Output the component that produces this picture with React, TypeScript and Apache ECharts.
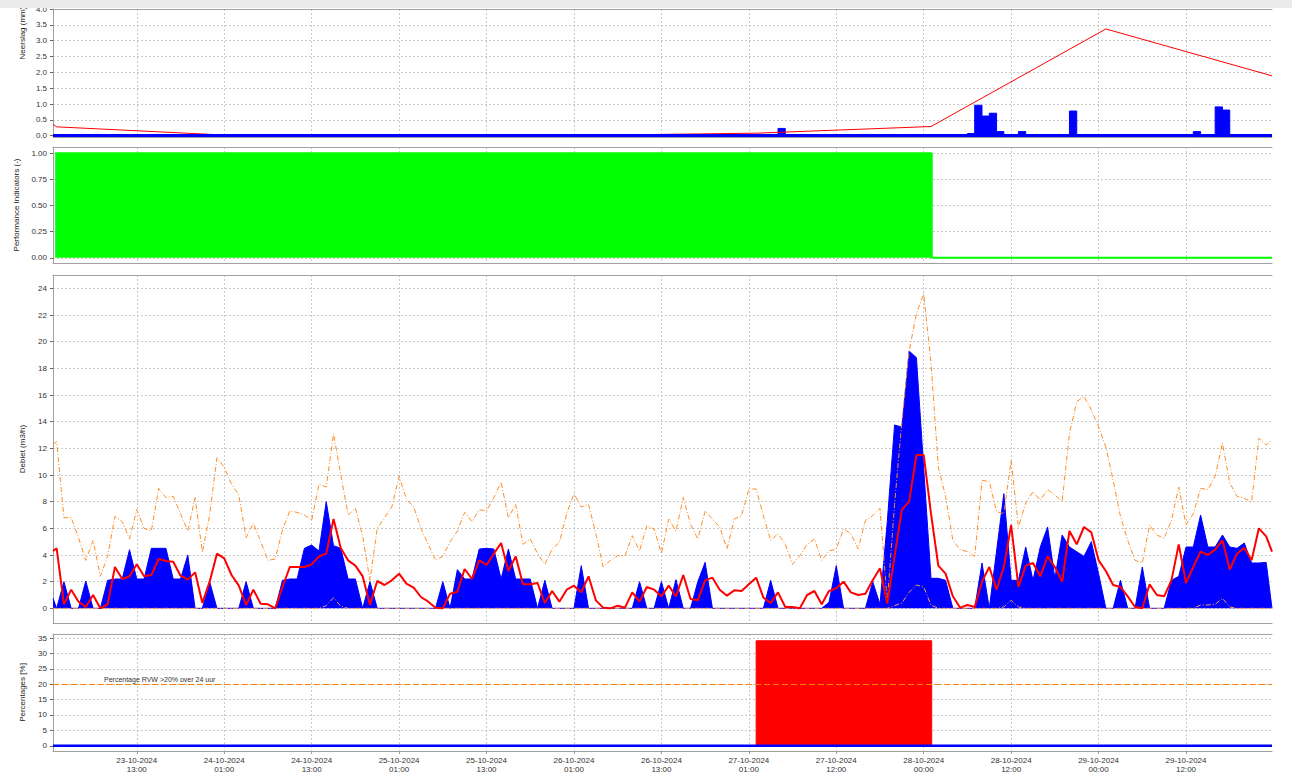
import React, { useEffect, useRef } from 'react';
import * as echarts from 'echarts';

// x values are hours relative to 23-10-2024 13:00
const X_MIN = -11.5;
const X_MAX = 155.8;
const tickHours = [0, 12, 24, 36, 48, 60, 72, 84, 96, 108, 120, 132, 144];
const tickLabels = [
  '23-10-2024\n13:00', '24-10-2024\n01:00', '24-10-2024\n13:00', '25-10-2024\n01:00',
  '25-10-2024\n13:00', '26-10-2024\n01:00', '26-10-2024\n13:00', '27-10-2024\n01:00',
  '27-10-2024\n12:00', '28-10-2024\n00:00', '28-10-2024\n12:00', '29-10-2024\n00:00',
  '29-10-2024\n12:00',
];

const hourly: number[] = [];
for (let h = -11; h <= 155; h++) hourly.push(h);
const timeHours = [-11.5, ...hourly, 155.8];

// Neerslag (mm) per uur
const rain = [
  0,
  0, 0, 0, 0, 0, 0, 0, 0, 0, 0, 0,
  0, 0, 0, 0, 0, 0, 0, 0, 0, 0, 0, 0,
  0, 0, 0, 0, 0, 0, 0, 0, 0, 0, 0, 0,
  0, 0, 0, 0, 0, 0, 0, 0, 0, 0, 0, 0,
  0, 0, 0, 0, 0, 0, 0, 0, 0, 0, 0, 0,
  0, 0, 0, 0, 0, 0, 0, 0, 0, 0, 0, 0,
  0, 0, 0, 0, 0, 0, 0, 0, 0, 0, 0, 0,
  0, 0, 0, 0, 0, 0, 0, 0.04, 0.04, 0.04, 0.04, 0.04,
  0.04, 0.04, 0.04, 0.04, 0.23, 0, 0, 0, 0, 0, 0, 0,
  0, 0, 0, 0, 0, 0, 0, 0, 0, 0, 0, 0,
  0, 0, 0, 0, 0, 0, 0.07, 0.96, 0.62, 0.71, 0.13, 0,
  0, 0.13, 0, 0, 0, 0, 0, 0, 0.78, 0, 0, 0,
  0, 0, 0, 0, 0, 0, 0, 0, 0, 0, 0, 0,
  0, 0.13, 0, 0, 0.91, 0.81, 0, 0, 0, 0, 0, 0,
  0,
];

// Neerslag som (red line)
const rainSumHours = [-11.5, -11, 13, 37, 61, 85, 109, 133, 155.8];
const rainSum = [0.36, 0.28, 0.01, 0.01, 0.01, 0.08, 0.29, 3.37, 1.89];

// Performance indicator
const perfHours = [-11.2, 109.1, 109.1, 155.8];
const perfValues = [1, 1, 0, 0];

// Debiet gemeten (blue area)
const flowMeasured = [
  0.75,
  0, 2.0, 0, 0, 2.05, 0, 0, 2.1, 2.2, 2.2, 4.4,
  2.2, 2.2, 4.5, 4.5, 4.5, 2.2, 2.2, 4.0, 0, 0, 2.0, 0,
  0, 0, 0, 2.0, 0, 0, 0, 0, 2.1, 2.2, 2.2, 4.5,
  4.75, 4.3, 8.0, 4.7, 4.5, 2.2, 2.2, 0, 2.0, 0, 0, 0,
  0, 0, 0, 0, 0, 0, 2.0, 0, 2.9, 2.2, 2.2, 4.45,
  4.5, 4.45, 2.2, 4.45, 2.2, 2.2, 2.2, 0, 2.1, 0, 0, 0,
  0, 3.2, 0, 0, 0, 0, 0, 0, 0, 2.0, 0, 0,
  2.0, 0, 2.15, 0, 0, 2.0, 3.45, 0, 0, 0, 0, 0,
  0, 0, 0, 2.1, 0, 0, 0, 0, 0, 0, 0, 0.45,
  3.2, 0, 0, 0, 0, 2.0, 0.3, 6.5, 13.75, 13.6, 19.3, 18.8,
  10.5, 2.25, 2.25, 2.1, 0, 0, 0, 0, 3.4, 0, 4.3, 8.6,
  2.1, 2.1, 4.6, 2.1, 4.6, 6.1, 2.25, 5.5, 4.6, 4.25, 3.9, 5.0,
  2.6, 0, 0, 2.1, 0, 0, 3.1, 0, 0, 0, 2.1, 2.4,
  4.6, 4.6, 7.0, 4.6, 4.6, 5.5, 4.6, 4.5, 4.9, 3.4, 3.4, 3.45,
  0,
];

// Debiet verwacht (red line)
const flowExpected = [
  4.3,
  4.5, 0.3, 1.4, 0.5, 0.1, 1.0, 0.0, 0.3, 3.1, 2.2, 2.4,
  3.3, 2.4, 2.5, 3.7, 3.55, 3.5, 2.45, 2.15, 2.7, 0.4, 2.0, 4.1,
  3.75, 2.5, 1.7, 0.25, 1.4, 0.35, 0.3, 0.0, 1.6, 3.1, 3.1, 3.1,
  3.3, 3.9, 4.1, 6.7, 4.5, 3.6, 3.2, 2.4, 0.25, 2.05, 1.75, 2.1,
  2.6, 1.85, 1.55, 0.85, 0.5, 0.05, 0.0, 1.1, 1.25, 2.95, 2.2, 3.6,
  3.25, 4.1, 4.9, 2.8, 3.9, 1.8, 1.8, 1.9, 0.4, 1.3, 0.5, 1.4,
  1.7, 1.2, 2.4, 0.6, 0.05, 0.0, 0.2, 0.05, 1.2, 0.5, 1.6, 1.4,
  0.9, 1.7, 0.9, 2.5, 0.7, 0.6, 2.1, 2.3, 1.4, 0.95, 1.35, 1.3,
  1.8, 2.3, 0.8, 0.4, 1.2, 0.1, 0.1, 0.0, 1.0, 1.3, 0.3, 1.3,
  1.5, 2.0, 1.2, 1.0, 1.1, 2.1, 3.0, 0.35, 3.9, 7.4, 8.0, 11.5,
  11.5, 7.1, 3.2, 2.6, 0.9, 0.05, 0.25, 0.1, 2.0, 3.1, 1.4, 3.1,
  6.25, 1.6, 3.2, 3.4, 2.4, 3.9, 3.1, 2.0, 5.8, 4.8, 6.1, 5.7,
  3.6, 2.8, 1.75, 1.6, 0.9, 0.1, 0.0, 1.8, 1.0, 0.9, 2.1, 4.8,
  1.9, 3.1, 4.25, 4.0, 4.4, 5.1, 2.9, 4.1, 4.55, 3.6, 6.0, 5.4,
  4.25,
];

// Bovengrens (orange dash-dot)
const flowUpper = [
  12.3,
  12.5, 6.8, 6.8, 5.3, 3.6, 5.1, 2.4, 3.9, 6.9, 6.5, 5.2,
  7.4, 6.0, 5.8, 9.0, 8.3, 8.4, 7.1, 5.8, 8.3, 4.2, 7.0, 11.3,
  10.6, 9.3, 8.5, 5.3, 6.4, 5.0, 3.6, 3.7, 5.9, 7.3, 7.2, 7.0,
  6.6, 9.3, 9.1, 13.1, 10.0, 7.0, 7.5, 5.4, 2.1, 6.0, 6.8, 7.6,
  9.9, 8.2, 7.6, 6.0, 4.8, 3.6, 3.9, 5.0, 5.8, 7.2, 6.5, 7.4,
  7.3, 8.3, 9.45, 6.8, 7.8, 4.8, 5.2, 4.1, 3.3, 4.45, 4.95, 7.1,
  8.6, 7.6, 7.8, 5.6, 3.1, 3.6, 3.95, 3.95, 5.45, 4.3, 6.2, 5.95,
  4.1, 6.7, 5.8, 8.3, 6.3, 5.2, 7.3, 6.7, 6.1, 4.45, 6.7, 6.95,
  8.95, 8.95, 6.95, 5.1, 5.6, 4.8, 3.3, 3.95, 4.8, 5.2, 3.6, 4.3,
  4.45, 5.95, 5.6, 4.45, 6.6, 6.95, 7.5, 0.5, 7.8, 14.0, 19.3, 22.1,
  23.6, 18.4, 10.6, 8.4, 5.1, 4.4, 4.25, 3.9, 9.6, 9.5, 7.25, 7.1,
  11.1, 6.1, 7.9, 8.75, 8.1, 8.9, 8.5, 8.0, 13.1, 15.5, 15.9, 14.9,
  13.6, 12.1, 9.6, 6.9, 5.1, 3.6, 3.4, 6.25, 5.5, 5.25, 6.6, 9.1,
  6.25, 7.1, 9.0, 8.9, 9.9, 12.4, 9.4, 8.4, 8.25, 8.0, 12.75, 12.25,
  12.6,
];

// Ondergrens (orange dash-dot, near zero)
const flowLower = [
  0,
  0, 0, 0, 0, 0, 0, 0, 0, 0, 0, 0,
  0, 0, 0, 0, 0, 0, 0, 0, 0, 0, 0, 0,
  0, 0, 0, 0, 0, 0, 0, 0, 0, 0, 0, 0,
  0, 0, 0.2, 0.8, 0.15, 0, 0, 0, 0, 0, 0, 0,
  0, 0, 0, 0, 0, 0, 0, 0, 0, 0, 0, 0,
  0, 0, 0, 0, 0, 0, 0, 0, 0, 0, 0, 0,
  0, 0, 0, 0, 0, 0, 0, 0, 0, 0, 0, 0,
  0, 0, 0, 0, 0, 0, 0, 0, 0, 0, 0, 0,
  0, 0, 0, 0, 0, 0, 0, 0, 0, 0, 0, 0,
  0, 0, 0, 0, 0, 0, 0, 0, 0.2, 0.4, 1.2, 1.75,
  1.6, 0.25, 0, 0, 0, 0, 0, 0, 0, 0, 0, 0.1,
  0.6, 0.1, 0, 0, 0, 0, 0, 0, 0, 0, 0, 0,
  0, 0, 0, 0, 0, 0, 0, 0, 0, 0, 0, 0,
  0, 0, 0.25, 0.25, 0.3, 0.75, 0.1, 0, 0, 0, 0, 0,
  0,
];

// Percentages
const pctHours = [85, 85, 109.1, 109.1];
const pctValues = [0, 34.1, 34.1, 0];
const pctBaseHours = [X_MIN, X_MAX];
const pctBaseValues = [0, 0];
const pctThreshold = 20;
const pctThresholdLabel = 'Percentage RVW >20% over 24 uur';

const yTicks0 = [0, 0.5, 1, 1.5, 2, 2.5, 3, 3.5, 4];
const yTicks1 = [0, 0.25, 0.5, 0.75, 1];
const yTicks2 = [0, 2, 4, 6, 8, 10, 12, 14, 16, 18, 20, 22, 24];
const yTicks3 = [0, 5, 10, 15, 20, 25, 30, 35];

const zip = (xs: number[], ys: number[]) => xs.map((x, i) => [x, ys[i]]);

const FONT = 'Liberation Sans, Arial, sans-serif';
const AXIS_COLOR = '#a0a0a0';
const gridLine = { color: '#c8c8c8', type: [2, 2], width: 1 };

function xAxisBottom(i: number, labels: boolean) {
  return {
    type: 'value', gridIndex: i, min: X_MIN, max: X_MAX, position: 'bottom',
    axisLine: { show: true, onZero: false, lineStyle: { color: AXIS_COLOR, width: 1 } },
    axisTick: { show: labels, customValues: tickHours, length: 3, lineStyle: { color: AXIS_COLOR } },
    axisLabel: {
      show: labels, customValues: tickHours, margin: 5, fontFamily: FONT, fontSize: 8, color: '#333', lineHeight: 9,
      formatter: (v: number) => { const k = tickHours.indexOf(Math.round(v)); return k >= 0 ? tickLabels[k] : ''; },
    },
    splitLine: { show: true, lineStyle: gridLine },
  };
}
function xAxisTop(i: number) {
  return {
    type: 'value', gridIndex: i, min: X_MIN, max: X_MAX, position: 'top',
    axisLine: { show: true, onZero: false, lineStyle: { color: AXIS_COLOR, width: 1 } },
    axisTick: { show: false }, axisLabel: { show: false }, splitLine: { show: false },
  };
}
function yAxis(i: number, min: number, max: number, ticks: number[], digits: number, name: string) {
  return {
    type: 'value', gridIndex: i, min, max,
    name, nameLocation: 'middle', nameGap: 27, nameRotate: 90,
    nameTextStyle: { fontFamily: FONT, fontSize: 8, color: '#222' },
    axisLine: { show: true, onZero: false, lineStyle: { color: AXIS_COLOR, width: 1 } },
    axisTick: { show: true, customValues: ticks, length: 3, lineStyle: { color: '#666' } },
    axisLabel: { customValues: ticks, margin: 6, fontFamily: FONT, fontSize: 8, color: '#333', formatter: (v: number) => v.toFixed(digits) },
    splitLine: { show: true, lineStyle: gridLine },
  };
}

export default function App() {
  const ref = useRef<HTMLDivElement>(null);
  useEffect(() => {
    document.body.style.margin = '0';
    if (!ref.current) return;
    const chart = echarts.init(ref.current, undefined, { renderer: 'svg' });
    const dashDot = [5, 2, 1, 2];
    chart.setOption({
      animation: false,
      backgroundColor: '#ffffff',
      grid: [
        { left: 53, right: 20, top: 9, height: 128.3 },
        { left: 53, right: 20, top: 147, height: 116 },
        { left: 53, right: 20, top: 275, height: 348 },
        { left: 53, right: 20, top: 634, height: 117 },
      ],
      xAxis: [
        xAxisBottom(0, false), xAxisBottom(1, false), xAxisBottom(2, false), xAxisBottom(3, true),
        xAxisTop(0), xAxisTop(1), xAxisTop(2), xAxisTop(3),
      ],
      yAxis: [
        yAxis(0, -0.05, 4.0, yTicks0, 1, ''),
        yAxis(1, -0.05, 1.06, yTicks1, 2, 'Performance Indicators (-)'),
        yAxis(2, -1.1, 25, yTicks2, 0, 'Debiet (m3/h)'),
        yAxis(3, -1.7, 36.3, yTicks3, 0, 'Percentages [%]'),
      ],
      graphic: [
        {
          type: 'text', x: 22, y: 33, rotation: Math.PI / 2, z: 10,
          style: { text: 'Neerslag (mm)', fontFamily: FONT, fontSize: 8, fill: '#222', align: 'center', verticalAlign: 'middle', textAlign: 'center', textVerticalAlign: 'middle' },
        },
        { type: 'rect', x: 0, y: 0, z: 20, shape: { width: 1292, height: 8 }, style: { fill: '#ececec' } },
      ],
      series: [
        {
          name: 'Neerslag', type: 'line', xAxisIndex: 0, yAxisIndex: 0, step: 'end', showSymbol: false,
          data: zip(timeHours, rain),
          lineStyle: { color: '#0000ff', width: 1 }, itemStyle: { color: '#0000ff' },
          areaStyle: { color: '#0000ff', opacity: 1 },
          markLine: {
            symbol: 'none', silent: true, label: { show: false },
            lineStyle: { color: '#0000ff', type: 'solid', width: 3 },
            data: [{ yAxis: 0 }],
          },
        },
        {
          name: 'Neerslag som', type: 'line', xAxisIndex: 0, yAxisIndex: 0, showSymbol: false,
          data: zip(rainSumHours, rainSum),
          lineStyle: { color: '#ff0000', width: 1 }, itemStyle: { color: '#ff0000' },
        },
        {
          name: 'Performance', type: 'line', xAxisIndex: 1, yAxisIndex: 1, showSymbol: false,
          data: zip(perfHours, perfValues),
          lineStyle: { color: '#00ff00', width: 2 }, itemStyle: { color: '#00ff00' },
          areaStyle: { color: '#00ff00', opacity: 1 },
        },
        {
          name: 'Debiet gemeten', type: 'line', xAxisIndex: 2, yAxisIndex: 2, showSymbol: false,
          data: zip(timeHours, flowMeasured),
          lineStyle: { color: '#0000ff', width: 1 }, itemStyle: { color: '#0000ff' },
          areaStyle: { color: '#0000ff', opacity: 1 },
        },
        {
          name: 'Bovengrens', type: 'line', xAxisIndex: 2, yAxisIndex: 2, showSymbol: false,
          data: zip(timeHours, flowUpper),
          lineStyle: { color: '#ff8c26', width: 1, type: dashDot }, itemStyle: { color: '#ff8c26' },
        },
        {
          name: 'Ondergrens', type: 'line', xAxisIndex: 2, yAxisIndex: 2, showSymbol: false,
          data: zip(timeHours, flowLower),
          lineStyle: { color: '#ff9d4d', width: 1, type: dashDot }, itemStyle: { color: '#ff9d4d' },
        },
        {
          name: 'Debiet verwacht', type: 'line', xAxisIndex: 2, yAxisIndex: 2, showSymbol: false,
          data: zip(timeHours, flowExpected),
          lineStyle: { color: '#ff0000', width: 2 }, itemStyle: { color: '#ff0000' },
        },
        {
          name: 'Percentage RVW', type: 'line', xAxisIndex: 3, yAxisIndex: 3, showSymbol: false,
          data: zip(pctHours, pctValues),
          lineStyle: { color: '#ff0000', width: 1 }, itemStyle: { color: '#ff0000' },
          areaStyle: { color: '#ff0000', opacity: 1 },
        },
        {
          name: 'Percentage basis', type: 'line', xAxisIndex: 3, yAxisIndex: 3, showSymbol: false,
          data: zip(pctBaseHours, pctBaseValues),
          lineStyle: { color: '#0000ff', width: 2.5 }, itemStyle: { color: '#0000ff' },
          markLine: {
            symbol: 'none', silent: true,
            lineStyle: { color: '#ff8000', type: [6, 3], width: 1 },
            label: {
              show: true, position: 'insideStartTop', formatter: pctThresholdLabel,
              fontFamily: FONT, fontSize: 7, color: '#333', padding: [0, 0, 0, 50], distance: 1,
            },
            data: [{ yAxis: pctThreshold }],
          },
        },
      ],
    });
    return () => chart.dispose();
  }, []);
  return <div ref={ref} style={{ width: 1292, height: 774 }} />;
}
